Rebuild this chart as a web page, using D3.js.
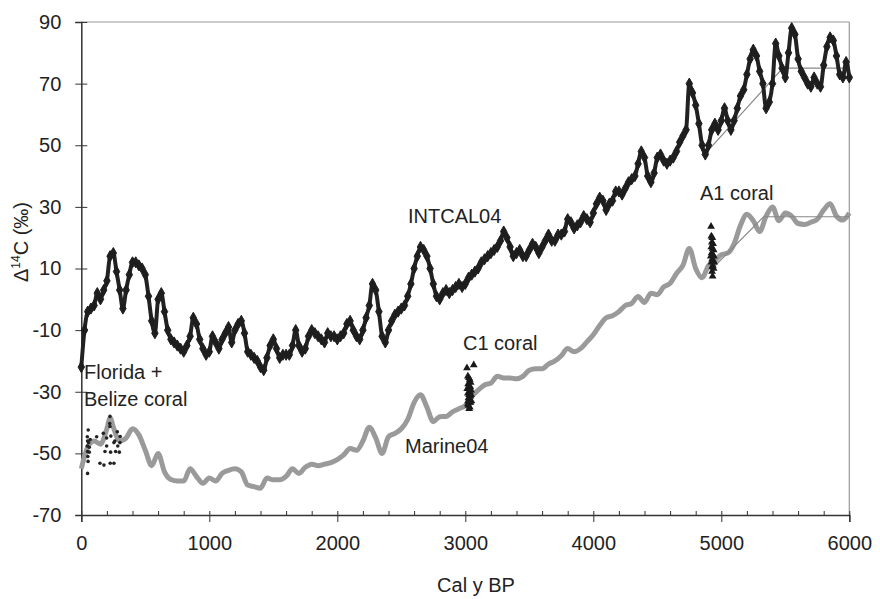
<!DOCTYPE html>
<html>
<head>
<meta charset="utf-8">
<script src="https://cdn.jsdelivr.net/npm/d3@7"></script>
<style>
  body { margin: 0; background: #fff; }
  text { font-family: "Liberation Sans", Arial, sans-serif; fill: #222; }
</style>
</head>
<body>
<div id="chart"></div>
<script>
// INTCAL04 atmospheric D14C, one value every 25 cal y BP from 0 to 6000
const intcalStep = 25;
const intcalValues = [
  -22, -10, -4, -3, -2, 2, 0, 3, 6, 14, 15, 9, 3, -3, 3, 8, 12, 12, 11, 10,
  8, 1, -7, -11, 0, 2, -4, -10, -13, -14, -15, -16, -17, -15, -12, -6, -8, -13, -16, -18,
  -17, -12, -14, -16, -13, -11, -9, -14, -10, -8, -7, -11, -17, -18, -19, -20, -22, -23, -19, -15,
  -13, -16, -19, -18, -18, -18, -15, -10, -15, -17, -16, -12, -10, -11, -12, -13, -14, -11, -12, -12,
  -13, -12, -11, -8, -7, -10, -12, -13, -10, -6, -2, 5, 3, -4, -12, -14, -10, -7, -5, -4,
  -3, -2, 1, 5, 10, 14, 17, 16, 14, 10, 5, 1, 0, 2, 3, 2, 3, 4, 5, 4,
  5, 7, 8, 9, 10, 12, 13, 14, 15, 16, 17, 19, 22, 20, 17, 14, 15, 16, 14, 14,
  16, 18, 17, 15, 17, 19, 21, 19, 19, 21, 21, 22, 26, 25, 23, 24, 25, 27, 26, 25,
  28, 31, 33, 32, 29, 31, 32, 35, 35, 34, 36, 38, 39, 40, 44, 48, 46, 40, 38, 41,
  46, 47, 45, 44, 45, 46, 48, 51, 53, 55, 70, 67, 63, 57, 50, 47, 50, 55, 57, 55,
  58, 62, 58, 55, 58, 62, 66, 68, 73, 78, 81, 79, 74, 70, 62, 64, 70, 83, 79, 75,
  72, 80, 88, 86, 78, 74, 72, 70, 69, 72, 70, 69, 76, 82, 85, 84, 79, 73, 72, 77,
  72
];

// Marine04 curve
const marineYears = [
  0, 50, 100, 150, 200, 225, 250, 300, 350, 400, 450, 500, 550, 600, 650, 700, 750, 800, 850, 900,
  950, 1000, 1050, 1100, 1150, 1200, 1250, 1300, 1350, 1400, 1450, 1500, 1550, 1600, 1650, 1700, 1750, 1800, 1850, 1900,
  1950, 2000, 2050, 2100, 2150, 2200, 2250, 2300, 2350, 2400, 2450, 2500, 2550, 2600, 2650, 2700, 2750, 2800, 2850, 2900,
  2950, 3000, 3050, 3100, 3150, 3200, 3250, 3300, 3350, 3400, 3450, 3500, 3550, 3600, 3650, 3700, 3750, 3800, 3850, 3900,
  3950, 4000, 4050, 4100, 4150, 4200, 4250, 4300, 4350, 4400, 4450, 4500, 4550, 4600, 4650, 4700, 4750, 4800, 4850, 4900,
  4950, 5000, 5050, 5100, 5150, 5200, 5250, 5300, 5350, 5400, 5450, 5500, 5550, 5600, 5650, 5700, 5750, 5800, 5850, 5900,
  5950, 6000
];
const marineValues = [
  -55, -48, -46, -47, -42, -38.5, -41.5, -46, -45, -42, -44, -49, -54, -50, -56, -58.5, -59, -59, -55, -57.5,
  -59.7, -58, -59, -56.5, -55.5, -55, -56, -60.3, -60.8, -61.3, -58, -58.6, -58.6, -57.5, -55, -56.5, -54.5, -53.5, -54, -53.5,
  -53, -52, -50.5, -48.4, -49, -46, -41.5, -45, -50, -44.6, -43.5, -42, -39, -33.5, -31, -35, -39.7, -38.1, -38, -36.5,
  -35.5, -34.5, -31.5, -29.5, -27.8, -27.2, -25, -25.5, -25.5, -25.8, -25, -23, -22.5, -22.5, -21, -20, -18.3, -16, -17, -16,
  -13.8, -11.5, -8.5, -6, -5.3, -4, -2, -1.3, 0.9, -1, 2, 1.5, 4, 5.2, 8.4, 11, 16.5, 10, 7, 11,
  12.5, 14.5, 15, 18, 24, 27.6, 25.5, 22, 27, 30, 25.5, 28, 27, 24.6, 24.3, 25, 26, 29, 31, 27,
  25.7, 28
];

// thin grey trend segments
const trendAtmYears = [4880, 5480, 6000];
const trendAtmValues = [47.5, 75, 75];
const trendMarYears = [4930, 5330, 6000];
const trendMarValues = [10, 26.8, 26.8];

// Florida + Belize coral (dots)
const floridaYears = [47, 49, 47, 49, 51, 53, 49, 54, 57, 62, 62, 69, 120, 146, 177, 172, 185, 198, 198, 224, 224, 222, 229, 231, 226, 255, 255, 262, 268, 281, 285, 297, 302, 304];
const floridaValues = [-44.6, -46, -47.6, -49.4, -51, -52.6, -56.5, -42.4, -46.5, -48, -49.6, -45.5, -44.6, -53.2, -53.8, -43.5, -49.4, -45, -47.6, -41.3, -38, -40.3, -49.6, -44.4, -53.2, -53.2, -46.5, -46, -49.4, -43, -47.6, -49.6, -46.5, -44.5];

// C1 coral (triangles)
const c1Years = [3013, 3066, 3020, 3028, 3035, 3042, 3022, 3030, 3040, 3025, 3035, 3045, 3020, 3030, 3040, 3025, 3035, 3045, 3022, 3030, 3040, 3025, 3035, 3030, 3020, 3015, 3048];
const c1Values = [-22.3, -21.3, -25, -25.5, -26, -27, -27.5, -28, -28.5, -29, -30, -29.5, -30.5, -31, -31.5, -32, -32.5, -31, -33, -33.5, -33.5, -34.5, -35, -35.5, -34, -29, -33];

// A1 coral (triangles)
const a1Years = [4920, 4922, 4930, 4926, 4936, 4922, 4932, 4940, 4924, 4934, 4942, 4928, 4938, 4924, 4934, 4930, 4940, 4928, 4932, 4918, 4944];
const a1Values = [23.6, 20.5, 20, 18.5, 18, 17, 16.5, 16, 15, 14.5, 14, 13, 12.5, 12, 11, 10.5, 10, 9, 7.5, 14, 12];

const xMajor = [0, 1000, 2000, 3000, 4000, 5000, 6000];
const yTicks = [-70, -50, -30, -10, 10, 30, 50, 70, 90];

const W = 880, H = 599;
const x = d3.scaleLinear().domain([0, 6000]).range([81.3, 849.3]);
const y = d3.scaleLinear().domain([-70, 90]).range([515, 22]);

const svg = d3.select("#chart").append("svg").attr("width", W).attr("height", H);

// frame top/right
svg.append("line").attr("x1", x(0)).attr("x2", x(6000)).attr("y1", y(90)).attr("y2", y(90))
  .attr("stroke", "#999").attr("stroke-width", 1.2);
svg.append("line").attr("x1", x(6000)).attr("x2", x(6000)).attr("y1", y(90)).attr("y2", y(-70))
  .attr("stroke", "#999").attr("stroke-width", 1.2);

// minor x ticks
const minor = d3.range(200, 6000, 200).filter((d) => d % 1000 !== 0);
svg.append("g").attr("transform", `translate(0,${y(-70)})`)
  .call(d3.axisBottom(x).tickValues(minor).tickSize(-4).tickFormat(""))
  .call((g) => g.select(".domain").remove())
  .call((g) => g.selectAll(".tick line").attr("stroke", "#333"));

// x axis
const xAxis = svg.append("g").attr("transform", `translate(0,${y(-70)})`)
  .call(d3.axisBottom(x).tickValues(xMajor).tickSizeOuter(0).tickSize(7).tickPadding(14).tickFormat((d) => String(d)));
xAxis.selectAll(".tick line").attr("y1", -4).attr("stroke", "#333");
xAxis.select(".domain").attr("stroke", "#333").attr("stroke-width", 1.5);
xAxis.selectAll(".tick text").attr("font-size", 20).attr("fill", "#222")
  .style("font-family", "'Liberation Sans', Arial, sans-serif");

// y axis
const yAxis = svg.append("g").attr("transform", `translate(${x(0)},0)`)
  .call(d3.axisLeft(y).tickValues(yTicks).tickSizeOuter(0).tickSize(6).tickPadding(14).tickFormat((d) => String(d)));
yAxis.selectAll(".tick line").attr("x1", 6).attr("stroke", "#333");
yAxis.select(".domain").attr("stroke", "#333").attr("stroke-width", 1.5);
yAxis.selectAll(".tick text").attr("font-size", 20).attr("fill", "#222")
  .style("font-family", "'Liberation Sans', Arial, sans-serif");

// axis titles
svg.append("text").attr("x", 476).attr("y", 592).attr("text-anchor", "middle")
  .attr("font-size", 20).text("Cal y BP");

const yt = svg.append("text").attr("transform", "translate(28,242) rotate(-90)")
  .attr("text-anchor", "middle").attr("font-size", 20);
yt.append("tspan").text("\u0394");
yt.append("tspan").attr("font-size", 12).attr("dy", -8).text("14");
yt.append("tspan").attr("dy", 8).text("C  (\u2030)");

// Marine04 curve
const marine = marineYears.map((d, i) => [d, marineValues[i]]);
const line = d3.line().x((d) => x(d[0])).y((d) => y(d[1])).curve(d3.curveMonotoneX);
svg.append("path").datum(marine).attr("d", line)
  .attr("fill", "none").attr("stroke", "#9a9a9a").attr("stroke-width", 5).attr("stroke-linejoin", "round");

// thin trend lines
const straight = d3.line().x((d) => x(d[0])).y((d) => y(d[1]));
[[trendAtmYears, trendAtmValues], [trendMarYears, trendMarValues]].forEach(([ys, vs]) => {
  svg.append("path").datum(ys.map((d, i) => [d, vs[i]])).attr("d", straight)
    .attr("fill", "none").attr("stroke", "#888").attr("stroke-width", 1.2);
});

// INTCAL04
const intcal = intcalValues.map((v, i) => [i * intcalStep, v]);
svg.append("path").datum(intcal).attr("d", line)
  .attr("fill", "none").attr("stroke", "#222").attr("stroke-width", 4).attr("stroke-linejoin", "round");
svg.append("g").selectAll("path").data(intcal).join("path")
  .attr("transform", (d) => `translate(${x(d[0])},${y(d[1])})`)
  .attr("d", d3.symbol(d3.symbolDiamond, 36))
  .attr("fill", "#1e1e1e").attr("stroke", "#1e1e1e").attr("stroke-width", 1);

// Florida + Belize coral dots
svg.append("g").selectAll("circle").data(floridaYears.map((d, i) => [d, floridaValues[i]])).join("circle")
  .attr("cx", (d) => x(d[0])).attr("cy", (d) => y(d[1])).attr("r", 1.8).attr("fill", "#222");

// coral triangles
const tri = d3.symbol(d3.symbolTriangle, 26);
[[c1Years, c1Values], [a1Years, a1Values]].forEach(([ys, vs]) => {
  svg.append("g").selectAll("path").data(ys.map((d, i) => [d, vs[i]])).join("path")
    .attr("transform", (d) => `translate(${x(d[0])},${y(d[1])})`)
    .attr("d", tri).attr("fill", "#1a1a1a");
});

// annotations
const notes = [
  { t: "INTCAL04", x: 408, y: 223 },
  { t: "C1 coral", x: 463, y: 350 },
  { t: "Marine04", x: 405, y: 453 },
  { t: "A1 coral", x: 700, y: 200 },
  { t: "Florida +", x: 84, y: 379 },
  { t: "Belize coral", x: 84, y: 406 }
];
svg.append("g").selectAll("text").data(notes).join("text")
  .attr("x", (d) => d.x).attr("y", (d) => d.y).attr("font-size", 20).text((d) => d.t);
</script>
</body>
</html>
